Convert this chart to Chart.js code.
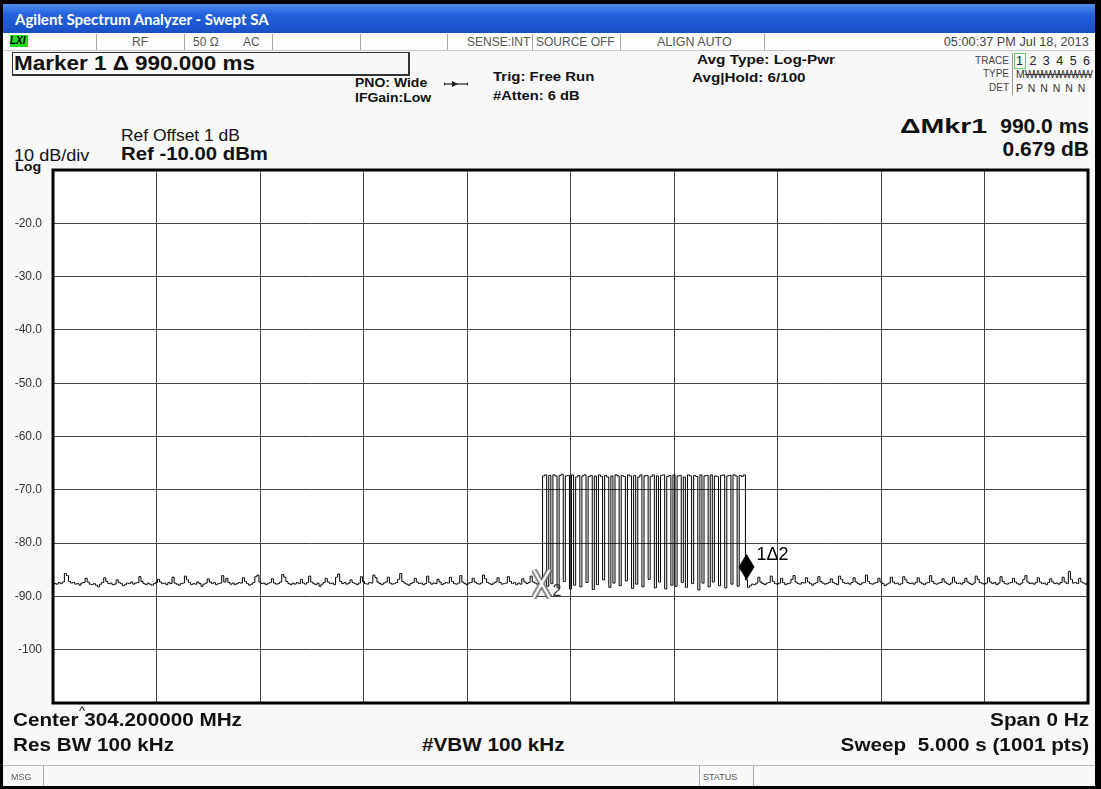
<!DOCTYPE html>
<html>
<head>
<meta charset="utf-8">
<script src="https://cdn.jsdelivr.net/npm/chart.js@4.4.1/dist/chart.umd.min.js"></script>
<style>
  html,body{margin:0;padding:0;background:#000;width:1101px;height:789px;overflow:hidden}
  .t{position:absolute;white-space:nowrap;line-height:1;font-family:"Liberation Sans",Arial,sans-serif;color:#111;transform-origin:left center}
  .r{transform-origin:right center}
  .b{font-weight:bold}
  .sep{position:absolute;width:1px;background:#a8a8a8}
  #screen{position:absolute;left:3px;top:4px;width:1092px;height:782px;background:#f8f8f8}
  #title{position:absolute;left:3px;top:4px;width:1092px;height:29px;background:linear-gradient(#4f8ff0,#2462dc 35%,#1b55cf 80%,#1a4fc0)}
  #status{position:absolute;left:3px;top:33px;width:1092px;height:17px;background:#fdfdfd;border-bottom:1px solid #c8c8c8}
  #chart{position:absolute;left:0;top:160px}
</style>
</head>
<body>
<div id="screen"></div>
<div id="title"></div>
<div class="t b" style="left:15px;top:12px;font-family:Lato,'Open Sans',sans-serif;font-size:15px;color:#fff">Agilent Spectrum Analyzer - Swept SA</div>

<div id="status"></div>
<div style="position:absolute;left:10px;top:35px;width:18px;height:12px;background:#1ee01e"></div>
<div class="t b" style="left:10px;top:36px;font-size:10px;font-style:italic;color:#000">LXI</div>
<div class="sep" style="left:96px;top:34px;height:16px"></div>
<div class="sep" style="left:184px;top:34px;height:16px"></div>
<div class="sep" style="left:272px;top:34px;height:16px"></div>
<div class="sep" style="left:360px;top:34px;height:16px"></div>
<div class="sep" style="left:447px;top:34px;height:16px"></div>
<div class="sep" style="left:532px;top:34px;height:16px"></div>
<div class="sep" style="left:620px;top:34px;height:16px"></div>
<div class="sep" style="left:764px;top:34px;height:16px"></div>
<div class="t" style="left:132px;top:36px;font-size:12px;color:#555">RF</div>
<div class="t" style="left:193px;top:36px;font-size:12px;color:#555">50 Ω</div>
<div class="t" style="left:243px;top:36px;font-size:12px;color:#555">AC</div>
<div class="t" style="left:467px;top:36px;font-size:12px;color:#555">SENSE:INT</div>
<div class="t" style="left:536px;top:36px;font-size:12px;color:#555">SOURCE OFF</div>
<div class="t" style="left:657px;top:36px;font-size:12px;color:#555;transform:scaleX(1.04)">ALIGN AUTO</div>
<div class="t r" style="right:12px;top:36px;font-size:12px;color:#444;transform:scaleX(1.06)">05:00:37 PM Jul 18, 2013</div>

<div style="position:absolute;left:12px;top:52px;width:395px;height:21px;border:1px solid #333;border-right-width:2px;border-bottom-width:2px"></div>
<div class="t b" style="left:14px;top:52px;font-size:21px;transform:scaleX(1.07)">Marker 1 Δ 990.000 ms</div>

<div class="t b" style="left:355px;top:77px;font-size:12.5px;transform:scaleX(1.12)">PNO: Wide</div>
<div class="t b" style="left:355px;top:92px;font-size:12.5px;transform:scaleX(1.12)">IFGain:Low</div>
<svg style="position:absolute;left:443px;top:80px" width="26" height="8" viewBox="0 0 26 8">
  <line x1="1" y1="4" x2="25" y2="4" stroke="#222" stroke-width="1.2"/>
  <polygon points="9,1 15,4 9,7" fill="#222"/>
  <line x1="1.5" y1="2.5" x2="1.5" y2="5.5" stroke="#222"/>
  <line x1="24.5" y1="2.5" x2="24.5" y2="5.5" stroke="#222"/>
</svg>
<div class="t b" style="left:493px;top:70px;font-size:13px;transform:scaleX(1.15)">Trig: Free Run</div>
<div class="t b" style="left:493px;top:89px;font-size:13px;transform:scaleX(1.13)">#Atten: 6 dB</div>
<div class="t b" style="left:697px;top:53px;font-size:13px;transform:scaleX(1.18)">Avg Type: Log-Pwr</div>
<div class="t b" style="left:692px;top:71px;font-size:13px;transform:scaleX(1.17)">Avg|Hold: 6/100</div>

<div class="t" style="right:92px;top:56px;font-size:10px;color:#444">TRACE</div>
<div class="t" style="right:92px;top:69px;font-size:10px;color:#444">TYPE</div>
<div class="t" style="right:92px;top:83px;font-size:10px;color:#444">DET</div>
<div class="sep" style="left:1012px;top:53px;height:42px;background:#999"></div>
<div style="position:absolute;left:1014px;top:53px;width:10px;height:14px;border:1px solid #6c6"></div>
<div class="t" style="left:1016px;top:55px;font-size:12.5px;word-spacing:3px;color:#222">1 2 3 4 5 6</div>
<div class="t" style="left:1016px;top:69px;font-size:10.5px;color:#333">M<span style="letter-spacing:-1.6px;text-decoration:line-through">WWWWWWWW</span></div>
<div class="t" style="left:1016px;top:83px;font-size:10.5px;word-spacing:2px;color:#333">P N N N N N</div>

<div class="t b" style="left:900px;top:115px;font-size:21px;transform:scaleX(1.36)">ΔMkr1</div>
<div class="t b" style="right:12px;top:115px;font-size:21px">990.0 ms</div>
<div class="t b" style="right:12px;top:138px;font-size:21px">0.679 dB</div>
<div class="t" style="left:121px;top:128px;font-size:16px;transform:scaleX(1.09)">Ref Offset 1 dB</div>
<div class="t b" style="left:121px;top:145px;font-size:18px;transform:scaleX(1.13)">Ref -10.00 dBm</div>
<div class="t" style="left:14px;top:148px;font-size:16px;transform:scaleX(1.13)">10 dB/div</div>
<div class="t b" style="left:15px;top:160px;font-size:13px;transform:scaleX(1.1)">Log</div>

<canvas id="chart" width="1095" height="552"></canvas>

<div class="t" style="left:79px;top:704px;font-size:13px">^</div>
<div class="t b" style="left:13px;top:711px;font-size:18px;transform:scaleX(1.15)">Center 304.200000 MHz</div>
<div class="t b r" style="right:12px;top:711px;font-size:18px;transform:scaleX(1.15)">Span 0 Hz</div>
<div class="t b" style="left:13px;top:736px;font-size:18px;transform:scaleX(1.15)">Res BW 100 kHz</div>
<div class="t b" style="left:422px;top:736px;font-size:18px;transform:scaleX(1.15)">#VBW 100 kHz</div>
<div class="t b r" style="right:12px;top:736px;font-size:18px;transform:scaleX(1.15)">Sweep&nbsp; 5.000 s (1001 pts)</div>

<div style="position:absolute;left:3px;top:765px;width:1092px;height:1px;background:#b8b8b8"></div>
<div class="sep" style="left:43px;top:766px;height:20px"></div>
<div class="sep" style="left:699px;top:766px;height:20px"></div>
<div class="sep" style="left:753px;top:766px;height:20px"></div>
<div class="t" style="left:11px;top:773px;font-size:9px;color:#555">MSG</div>
<div class="t" style="left:703px;top:773px;font-size:9px;color:#555">STATUS</div>

<script>
// zero span sweep, 0 .. 5000 ms, trace every 10 ms
const sweepStepMs = 10;
const sweepTimeMs = 5000;

// 0 .. 2360 ms : noise floor before the burst (last point = marker 2)
const noiseBefore = [
  -87.8,-87.6,-87.7,-87.4,-87.6,-87.3,-85.7,-86.1,-87.2,-87.5,-87.4,-87.7,-87.6,-87.9,-87.5,-87.4,-86.6,-87.3,-87.7,-87.8,
  -87.6,-87.9,-88.2,-87.7,-87.4,-86.5,-87.2,-87.6,-87.5,-87.8,-87.7,-86.9,-87.4,-87.6,-88.0,-87.8,-87.5,-87.6,-87.3,-87.7,
  -87.5,-87.4,-86.3,-87.2,-87.6,-87.8,-87.5,-87.7,-87.9,-87.6,-87.4,-86.8,-87.3,-87.6,-87.5,-87.8,-87.4,-87.6,-86.4,-87.5,
  -87.7,-87.9,-87.6,-87.5,-86.2,-86.9,-87.4,-87.8,-87.6,-87.7,-87.3,-87.6,-88.1,-87.7,-87.5,-86.7,-87.3,-87.6,-87.4,-87.8,
  -87.6,-87.5,-86.1,-87.3,-86.6,-87.4,-87.7,-87.5,-87.8,-87.6,-87.4,-87.5,-86.5,-87.2,-87.6,-87.9,-87.7,-87.4,-86.3,-86.0,
  -87.3,-87.6,-87.5,-87.8,-87.6,-87.4,-86.7,-87.5,-87.7,-87.6,-87.3,-85.9,-86.4,-87.2,-87.6,-87.8,-87.5,-87.7,-87.4,-87.6,
  -86.8,-87.5,-87.7,-87.4,-86.2,-87.3,-87.6,-87.8,-87.5,-88.1,-87.7,-87.4,-86.6,-87.3,-87.6,-87.5,-87.8,-86.4,-85.8,-87.2,
  -87.6,-87.4,-87.7,-87.5,-86.9,-87.4,-87.6,-87.8,-87.5,-86.3,-87.2,-87.6,-87.7,-87.4,-87.5,-86.0,-86.5,-87.3,-87.6,-87.8,
  -87.5,-87.3,-86.4,-87.5,-87.7,-87.6,-87.4,-86.8,-85.7,-87.2,-87.5,-87.7,-87.9,-87.6,-87.4,-86.6,-87.3,-87.6,-87.5,-87.8,
  -87.6,-86.2,-87.4,-87.7,-87.5,-87.6,-86.8,-87.3,-87.8,-87.6,-87.4,-87.5,-86.4,-87.2,-87.6,-87.7,-87.5,-86.1,-87.3,-87.6,
  -87.8,-87.5,-87.4,-86.6,-87.3,-87.6,-87.7,-87.5,-86.0,-86.7,-87.4,-87.6,-87.8,-87.5,-87.3,-86.5,-87.4,-87.7,-87.6,-87.5,
  -86.3,-87.2,-87.6,-87.4,-87.8,-87.5,-87.7,-86.7,-87.3,-87.6,-87.4,-86.2,-87.3,-87.5,-87.7,-87.5,-87.6
];

// 2370 .. 3340 ms : pulsed carrier, top about -67 dBm with short gaps
const burstLevels = [
  -67.4,-67.2,-88.1,-67.3,-87.6,-67.2,-67.4,-88.4,-67.3,-67.1,
  -87.2,-67.4,-67.3,-88.6,-67.2,-87.9,-67.6,-67.3,-88.2,-67.4,
  -67.2,-87.4,-67.5,-67.3,-88.7,-67.4,-87.8,-67.2,-67.5,-86.9,
  -67.3,-67.6,-88.3,-67.4,-87.5,-67.2,-67.4,-88.0,-67.3,-67.5,
  -87.1,-67.2,-67.4,-88.5,-67.3,-87.7,-67.6,-67.2,-88.2,-67.4,
  -67.3,-86.8,-67.5,-67.2,-88.4,-67.4,-87.3,-67.3,-67.2,-88.6,
  -67.5,-67.3,-87.9,-67.2,-88.1,-67.4,-67.3,-87.4,-67.6,-88.3,
  -67.2,-67.4,-87.6,-67.3,-67.5,-88.8,-67.2,-87.5,-67.4,-67.3,
  -88.2,-67.2,-87.3,-67.4,-67.5,-88.0,-67.3,-67.2,-88.4,-67.4,
  -67.3,-87.7,-67.2,-67.4,-88.1,-67.3,-67.5,-67.2
];

// 3350 .. 5000 ms : noise floor after the burst (first point = marker 1)
const noiseAfter = [
  -86.9,
  -88.3,-88.0,-87.7,-87.8,-87.5,-86.4,-87.3,-87.6,-87.8,-87.5,-87.4,-86.2,-87.2,-87.6,-87.7,-87.5,-86.6,-87.4,-87.8,-87.6,
  -87.5,-86.8,-86.1,-87.3,-87.6,-87.7,-87.4,-87.5,-86.5,-87.3,-87.6,-87.9,-87.6,-87.4,-86.3,-87.2,-87.5,-87.7,-87.6,-87.4,
  -86.7,-87.4,-87.6,-87.8,-86.2,-86.8,-87.4,-87.6,-87.5,-87.7,-87.4,-86.5,-87.3,-87.6,-87.8,-87.5,-87.4,-86.0,-87.2,-87.6,
  -87.7,-87.5,-87.4,-86.6,-87.3,-87.6,-88.0,-87.7,-87.5,-86.4,-87.3,-87.6,-87.5,-87.8,-87.6,-86.3,-86.9,-87.4,-87.6,-87.5,
  -87.7,-87.4,-86.5,-87.3,-87.6,-87.8,-87.5,-87.4,-86.1,-87.2,-87.6,-87.7,-87.5,-87.4,-86.7,-87.3,-87.6,-87.8,-87.5,-86.4,
  -87.3,-87.6,-87.5,-87.7,-87.4,-86.6,-87.3,-87.6,-87.8,-87.5,-86.2,-86.8,-87.4,-87.6,-87.7,-87.5,-86.5,-87.3,-87.6,-87.4,
  -87.8,-87.5,-86.3,-87.2,-87.6,-87.7,-87.5,-87.4,-86.6,-87.3,-87.6,-87.8,-87.5,-86.8,-86.1,-87.3,-87.6,-87.5,-87.7,-87.4,
  -86.5,-87.3,-87.6,-87.5,-87.8,-87.4,-86.7,-87.3,-87.6,-87.5,-87.7,-87.4,-86.4,-87.3,-87.6,-85.3,-86.8,-87.5,-87.4,-87.6,
  -86.6,-87.3,-87.5,-87.7,-87.4
];

// markers: [delta marker 1, reference marker 2]
const markerTimesMs = [3350, 2360];
const markerLabels = ['1\u03942', '2'];

// amplitude axis, ref -10 dBm, 10 dB/div
const yTickValues = [-10, -20, -30, -40, -50, -60, -70, -80, -90, -100, -110];
const yTickLabels = ['', '-20.0', '-30.0', '-40.0', '-50.0', '-60.0', '-70.0', '-80.0', '-90.0', '-100', ''];

const traceLevels = noiseBefore.concat(burstLevels, noiseAfter);
const tracePoints = traceLevels.map((v, i) => ({x: i * sweepStepMs, y: v}));
function markerPoint(t){ return {x: t, y: traceLevels[Math.round(t / sweepStepMs)]}; }

// marker glyphs
function diamondGlyph(){
  const c = document.createElement('canvas'); c.width = 17; c.height = 54;
  const g = c.getContext('2d');
  g.fillStyle = '#000'; g.beginPath();
  g.moveTo(8.5, 1); g.lineTo(16.5, 14); g.lineTo(8.5, 27); g.lineTo(0.5, 14); g.closePath(); g.fill();
  return c;
}
function crossGlyph(){
  const c = document.createElement('canvas'); c.width = 20; c.height = 30;
  const g = c.getContext('2d');
  g.lineCap = 'butt';
  g.strokeStyle = '#555'; g.lineWidth = 5.5;
  g.beginPath(); g.moveTo(2, 1); g.lineTo(18, 29); g.moveTo(18, 1); g.lineTo(2, 29); g.stroke();
  g.strokeStyle = '#fff'; g.lineWidth = 2.6;
  g.beginPath(); g.moveTo(2, 1); g.lineTo(18, 29); g.moveTo(18, 1); g.lineTo(2, 29); g.stroke();
  return c;
}

const screenPlot = {
  id: 'screenPlot',
  beforeDraw(c){
    const a = c.chartArea, ctx = c.ctx;
    ctx.save(); ctx.fillStyle = '#ffffff'; ctx.fillRect(a.left, a.top, a.width, a.height); ctx.restore();
  },
  afterDatasetsDraw(c){
    const a = c.chartArea, ctx = c.ctx;
    ctx.save();
    ctx.strokeStyle = '#000'; ctx.lineWidth = 3;
    ctx.strokeRect(a.left, a.top, a.width, a.height);
    ctx.textBaseline = 'middle'; ctx.textAlign = 'left';
    const m1 = c.getDatasetMeta(2).data[0];
    ctx.fillStyle = '#000'; ctx.font = '18px "Liberation Sans", Arial, sans-serif';
    ctx.fillText(markerLabels[0], m1.x + 10, m1.y - 25);
    const m2 = c.getDatasetMeta(1).data[0];
    ctx.fillStyle = '#333'; ctx.font = '16px "Liberation Sans", Arial, sans-serif';
    ctx.fillText(markerLabels[1], m2.x + 11, m2.y + 8);
    ctx.restore();
  }
};

new Chart(document.getElementById('chart'), {
  type: 'line',
  data: {
    datasets: [
      {data: tracePoints, borderColor: '#000', borderWidth: 1, pointRadius: 0, stepped: 'middle', order: 3},
      {data: [markerPoint(markerTimesMs[1])], showLine: false, pointStyle: crossGlyph(), pointRadius: 5, order: 1},
      {data: [markerPoint(markerTimesMs[0])], showLine: false, pointStyle: diamondGlyph(), pointRadius: 5, order: 0}
    ]
  },
  options: {
    responsive: false, animation: false, devicePixelRatio: 1,
    layout: {autoPadding: false, padding: {top: 10, right: 7, bottom: 9, left: 0}},
    plugins: {legend: {display: false}, tooltip: {enabled: false}},
    scales: {
      x: {
        type: 'linear', min: 0, max: sweepTimeMs,
        ticks: {display: false, stepSize: sweepTimeMs / 10},
        grid: {color: '#444', lineWidth: 1, drawTicks: false},
        border: {display: false}
      },
      y: {
        min: -110, max: -10,
        afterFit(s){ s.width = 53; s.paddingTop = 0; s.paddingBottom = 0; },
        ticks: {
          stepSize: 10, padding: 11, color: '#333',
          font: {family: '"Liberation Sans", Arial, sans-serif', size: 12},
          callback: v => { const i = yTickValues.indexOf(v); return i < 0 ? '' : yTickLabels[i]; }
        },
        grid: {color: '#444', lineWidth: 1, drawTicks: false},
        border: {display: false}
      }
    }
  },
  plugins: [screenPlot]
});
</script>
</body>
</html>
